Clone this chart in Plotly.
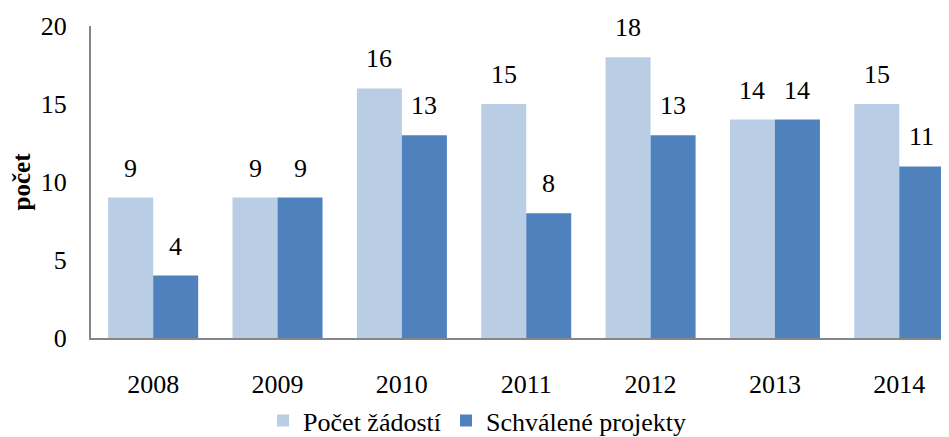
import plotly.graph_objects as go

years = ["2008", "2009", "2010", "2011", "2012", "2013", "2014"]
zadosti = [9, 9, 16, 15, 18, 14, 15]
schvalene = [4, 9, 13, 8, 13, 14, 11]
y_ticks = [0, 5, 10, 15, 20]

FONT = "Liberation Serif"

fig = go.Figure()
fig.add_trace(go.Bar(name="Počet žádostí", x=years, y=zadosti, marker_color="#B9CDE5",
                     marker_line_width=0))
fig.add_trace(go.Bar(name="Schválené projekty", x=years, y=schvalene, marker_color="#4F81BD",
                     marker_line_width=0))

ann = []
for i in range(len(years)):
    for val, sh in ((zadosti[i], -22.5), (schvalene[i], 22.5)):
        ann.append(dict(x=i, y=val, xref="x", yref="y", text=str(val), showarrow=False,
                        xshift=sh, yanchor="bottom", yshift=13,
                        font=dict(size=26, color="black", family=FONT)))

# page body has an 8px margin, so the figure is 8px smaller and margins shifted
fig.update_layout(
    width=941, height=429,
    margin=dict(l=83, r=0, t=18, b=99, autoexpand=False),
    barmode="group", bargap=0.276, bargroupgap=0,
    plot_bgcolor="white", paper_bgcolor="white",
    font=dict(family=FONT, size=26, color="black"),
    annotations=ann,
    legend=dict(orientation="h", x=0.45, xanchor="center", y=-0.265, yanchor="middle",
                font=dict(size=26, family=FONT, color="black")),
    xaxis=dict(type="category", range=[-0.5, 6.4], showline=True, linecolor="#868686",
               linewidth=2, ticks="", showgrid=False, ticklabelstandoff=22),
    yaxis=dict(range=[0, 20], tickvals=y_ticks, showline=True, linecolor="#868686", linewidth=2,
               ticks="", showgrid=False, zeroline=False, ticklabelstandoff=17,
               title=dict(text="<b>počet</b>", standoff=18, font=dict(size=25))),
)
fig.write_html("out.html")
